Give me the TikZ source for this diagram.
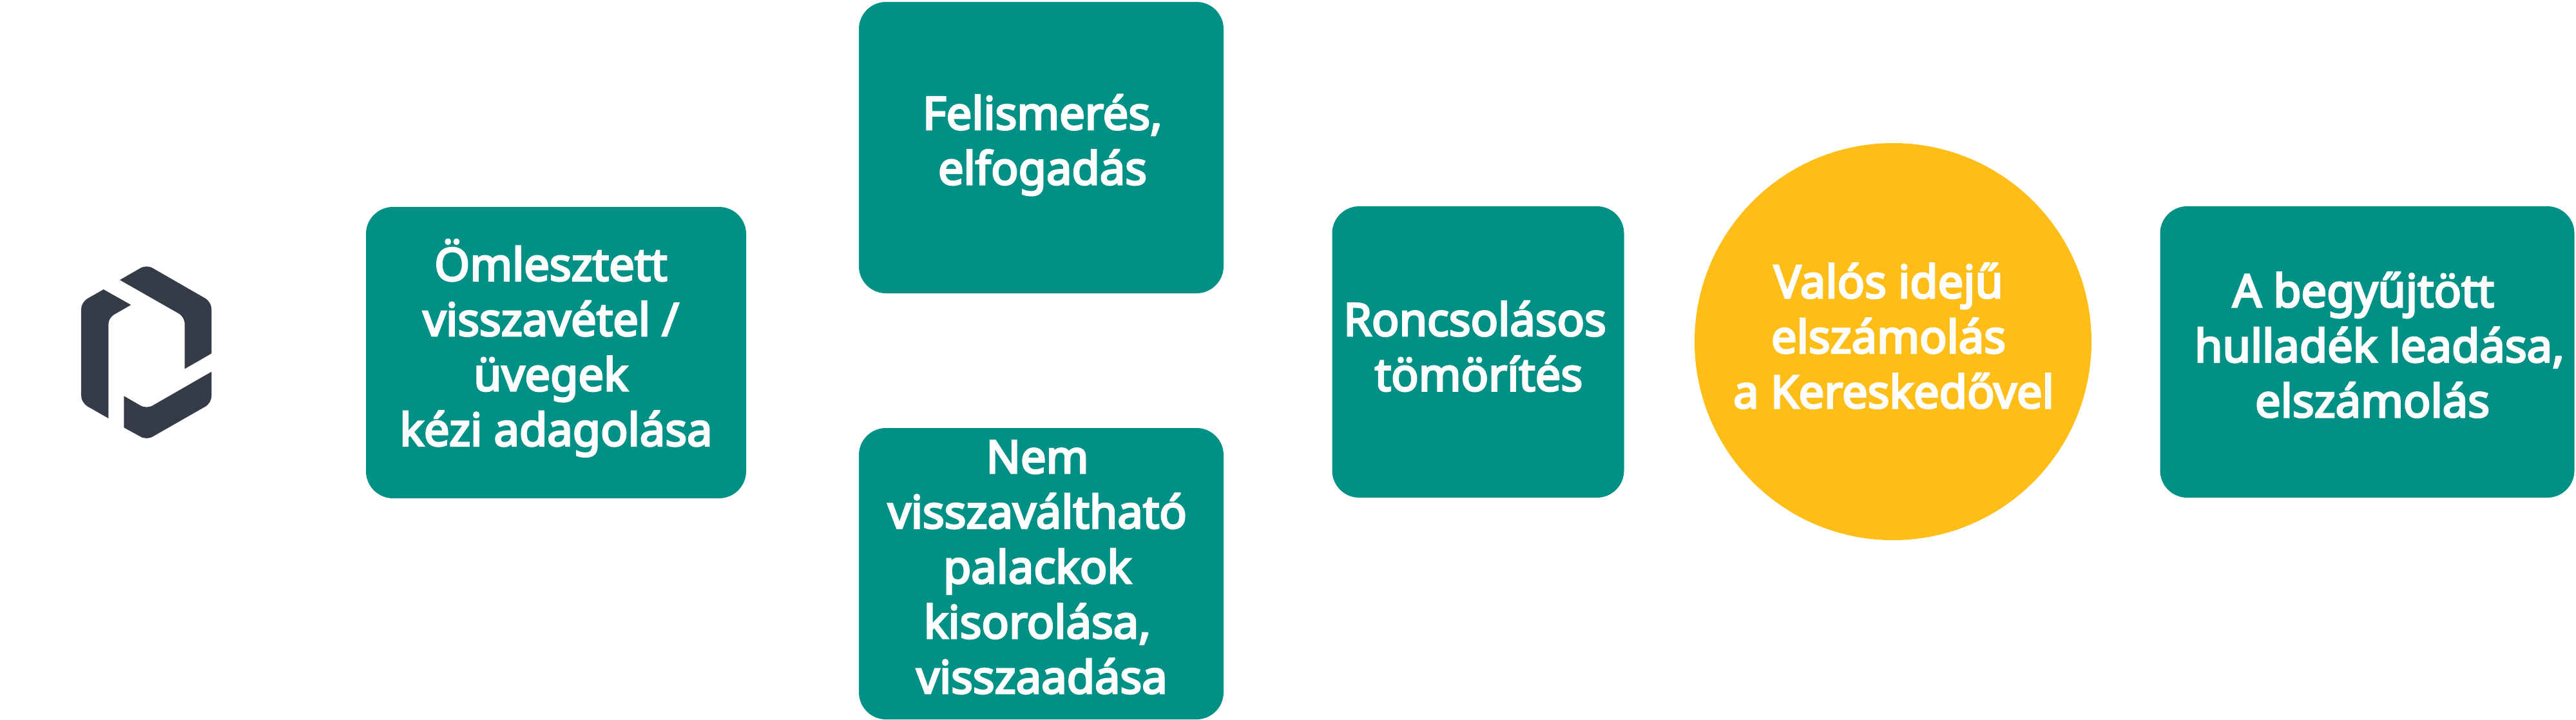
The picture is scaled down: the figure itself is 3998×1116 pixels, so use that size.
\documentclass[tikz,border=0pt]{standalone}
\usepackage{fontspec}
\usepackage{xcolor}
\usepackage{tikz}
\setmainfont{Noto Sans}[FakeBold=4.2]
\definecolor{tealbox}{HTML}{009085}
\definecolor{sunfill}{HTML}{FFBD18}
\definecolor{logodark}{HTML}{363C47}
\tikzset{
  boxshape/.style={fill=tealbox,rounded corners=10.5pt,inner sep=0pt,text width=0pt},
  sunshape/.style={circle,fill=sunfill,inner sep=0pt,minimum size=154pt},
  boxtext/.style={text=white,inner sep=0pt,align=center,font=\fontsize{17.6}{21.35}\selectfont\bfseries},
}
\begin{document}
\begin{tikzpicture}[x=0.25pt,y=-0.25pt]
\useasboundingbox (0,0) rectangle (3998,1116);

%Shape: Logo
\begin{scope}[shift={(60,350)},x=0.08333pt,y=-0.08333pt,fill=logodark]
\fill (378,253) -- (470,200) .. controls (490,187) and (515,187) .. (535,200) -- (775,338) .. controls (795,350) and (805,370) .. (805,395) -- (805,595) -- (680,667) -- (680,460) .. controls (680,437) and (670,420) .. (650,408) -- cycle ;
\fill (302,297) -- (430,369) -- (355,412) .. controls (335,424) and (325,440) .. (325,460) -- (325,897) -- (230,843) .. controls (210,831) and (198,812) .. (198,790) -- (198,390) .. controls (198,368) and (210,350) .. (230,338) -- cycle ;
\fill (397,793) -- (470,835) .. controls (490,848) and (515,848) .. (535,835) -- (805,680) -- (805,790) .. controls (805,812) and (795,831) .. (775,843) -- (535,980) .. controls (515,993) and (490,993) .. (470,980) -- (397,940) -- cycle ;
\end{scope}

%Shape: Boxes
\node [boxshape,minimum width=147.5pt,minimum height=113pt] (gather) at (863,547) {};
\node [boxshape,minimum width=141.5pt,minimum height=113pt] (detect) at (1616,229) {};
\node [boxshape,minimum width=141.5pt,minimum height=113pt] (reject) at (1616,890) {};
\node [boxshape,minimum width=113.25pt,minimum height=113pt] (crush) at (2294,546) {};
\node [sunshape] (settle) at (2938,530) {};
\node [boxshape,minimum width=160.75pt,minimum height=113pt] (handover) at (3674,546) {};

% Text Node
\node [boxtext] (gathertext) at (855,540) {Ömlesztett\\visszavétel /\\üvegek\\\hspace*{4pt}kézi adagolása};
\node [boxtext] (detecttext) at (1618,225) {Felismerés,\\elfogadás};
\node [boxtext] (rejecttext) at (1610,880) {Nem\\visszaváltható\\palackok\\kisorolása,\\\hspace*{3.5pt}visszaadása};
\node [boxtext] (crushtext) at (2289,537) {Roncsolásos\\\hspace*{3pt}tömörítés};
\node [boxtext] (settletext) at (2931,521) {Valós idejű\\elszámolás\\\hspace*{4pt}a Kereskedővel};
\node [boxtext] (handovertext) at (3693,535) {\hspace*{-12.5pt}A begyűjtött\\hulladék leadása,\\\hspace*{-5.5pt}elszámolás};
\end{tikzpicture}
\end{document}
